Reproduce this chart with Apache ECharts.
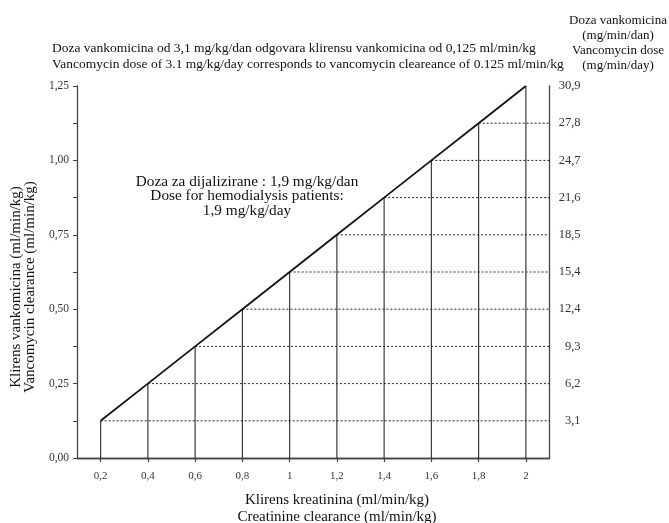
<!DOCTYPE html>
<html><head><meta charset="utf-8">
<script src="https://cdn.jsdelivr.net/npm/echarts@6/dist/echarts.min.js"></script>
<style>html,body{margin:0;padding:0;background:#fff}#c{width:669px;height:523px}</style>
</head><body><div id="c"></div>
<script>
// ---- data ----
const creatinineClearance = [0.2, 0.4, 0.6, 0.8, 1.0, 1.2, 1.4, 1.6, 1.8, 2.0];
const vancomycinClearance = [0.125, 0.25, 0.375, 0.5, 0.625, 0.75, 0.875, 1.0, 1.125, 1.25];
const xTickLabels = ['0,2', '0,4', '0,6', '0,8', '1', '1,2', '1,4', '1,6', '1,8', '2'];
const leftTickValues = [0, 0.25, 0.5, 0.75, 1.0, 1.25];
const leftTickLabels = ['0,00', '0,25', '0,50', '0,75', '1,00', '1,25'];
const leftMinorTickValues = [0.125, 0.375, 0.625, 0.875, 1.125];
const rightTickValues = [0.125, 0.25, 0.375, 0.5, 0.625, 0.75, 0.875, 1.0, 1.125, 1.25];
const rightTickLabels = ['3,1', '6,2', '9,3', '12,4', '15,4', '18,5', '21,6', '24,7', '27,8', '30,9'];
const X_MIN = 0.1, X_MAX = 2.1, Y_MIN = 0, Y_MAX = 1.25;

const FONT = '"Liberation Serif", "Times New Roman", serif';
const AXIS_COLOR = '#444';

const chart = echarts.init(document.getElementById('c'), null, { renderer: 'canvas' });

const points = creatinineClearance.map((x, i) => [x, vancomycinClearance[i]]);

const option = {
  backgroundColor: '#fff',
  animation: false,
  textStyle: { fontFamily: FONT },
  grid: { left: 77, right: 119.5, top: 86, bottom: 65, containLabel: false },
  xAxis: [
    {
      type: 'value', min: X_MIN, max: X_MAX, position: 'bottom',
      splitLine: { show: false },
      axisLine: { show: true, lineStyle: { color: AXIS_COLOR, width: 1.3 } },
      axisTick: { show: true, customValues: creatinineClearance, length: 4, lineStyle: { color: AXIS_COLOR, width: 1.2 } },
      axisLabel: {
        customValues: creatinineClearance, margin: 13, color: '#333', fontFamily: FONT, fontSize: 11,
        formatter: (v) => xTickLabels[creatinineClearance.indexOf(v)]
      }
    },
    {
      type: 'value', min: X_MIN, max: X_MAX, position: 'top',
      splitLine: { show: false },
      axisLine: { show: true, lineStyle: { color: AXIS_COLOR, width: 1.3 } },
      axisTick: { show: false }, axisLabel: { show: false }
    }
  ],
  yAxis: [
    {
      type: 'value', min: Y_MIN, max: Y_MAX, position: 'left',
      splitLine: { show: false },
      axisLine: { show: true, lineStyle: { color: AXIS_COLOR, width: 1.3 } },
      axisTick: { show: true, customValues: leftTickValues.concat(leftMinorTickValues), length: 4, lineStyle: { color: AXIS_COLOR } },
      axisLabel: {
        customValues: leftTickValues, margin: 8, color: '#333', fontFamily: FONT, fontSize: 11.5,
        formatter: (v) => leftTickLabels[leftTickValues.indexOf(v)]
      }
    },
    {
      type: 'value', min: Y_MIN, max: Y_MAX, position: 'right',
      splitLine: { show: false },
      axisLine: { show: true, lineStyle: { color: AXIS_COLOR, width: 1.3 } },
      axisTick: { show: false },
      axisLabel: {
        customValues: rightTickValues, margin: 31, align: 'right', color: '#333', fontFamily: FONT, fontSize: 12.5,
        formatter: (v) => rightTickLabels[rightTickValues.indexOf(v)]
      }
    }
  ],
  series: [
    {
      type: 'custom', name: 'verticals', xAxisIndex: 0, yAxisIndex: 0,
      data: points, z: 2,
      renderItem: (params, api) => {
        const p0 = api.coord([api.value(0), Y_MIN]);
        const p1 = api.coord([api.value(0), api.value(1)]);
        return { type: 'line', shape: { x1: p0[0], y1: p0[1], x2: p1[0], y2: p1[1] },
          style: { stroke: '#3a3a3a', lineWidth: 1.2 } };
      }
    },
    {
      type: 'custom', name: 'horizontals', xAxisIndex: 0, yAxisIndex: 0,
      data: points, z: 2,
      renderItem: (params, api) => {
        if (api.value(1) >= Y_MAX) return null;
        const p0 = api.coord([api.value(0), api.value(1)]);
        const p1 = api.coord([X_MAX, api.value(1)]);
        return { type: 'line', shape: { x1: p0[0], y1: p0[1], x2: p1[0], y2: p1[1] },
          style: { stroke: '#222', lineWidth: 1, lineDash: [2, 2] } };
      }
    },
    {
      type: 'line', name: 'clearance', xAxisIndex: 0, yAxisIndex: 0,
      data: points, symbol: 'none', z: 3,
      lineStyle: { color: '#111', width: 1.8 }
    }
  ],
  graphic: [
    {
      type: 'text', x: 52, y: 40,
      style: {
        text: 'Doza vankomicina od 3,1 mg/kg/dan odgovara klirensu vankomicina od 0,125 ml/min/kg\nVancomycin dose of 3.1 mg/kg/day corresponds to vancomycin cleareance of 0.125 ml/min/kg',
        font: '13.5px ' + FONT, fill: '#111', lineHeight: 16.5, align: 'left', verticalAlign: 'top'
      }
    },
    {
      type: 'text', x: 618, y: 13,
      style: {
        text: 'Doza vankomicina\n(mg/min/dan)\nVancomycin dose\n(mg/min/day)',
        font: '13px ' + FONT, fill: '#111', lineHeight: 15, align: 'center', verticalAlign: 'top'
      }
    },
    {
      type: 'text', x: 247, y: 175,
      style: {
        text: 'Doza za dijalizirane : 1,9 mg/kg/dan\nDose for hemodialysis patients:\n1,9 mg/kg/day',
        font: '15.3px ' + FONT, fill: '#111', lineHeight: 14.3, align: 'center', verticalAlign: 'top'
      }
    },
    {
      type: 'text', x: 337, y: 492,
      style: {
        text: 'Klirens kreatinina (ml/min/kg)\nCreatinine clearance (ml/min/kg)',
        font: '15px ' + FONT, fill: '#111', lineHeight: 17, align: 'center', verticalAlign: 'top'
      }
    },
    {
      type: 'text', x: 23, y: 287, rotation: Math.PI / 2,
      style: {
        text: 'Klirens vankomicina (ml/min/kg)\nVancomycin clearance (ml/min/kg)',
        font: '15px ' + FONT, fill: '#111', lineHeight: 14, align: 'center', verticalAlign: 'middle'
      }
    }
  ]
};
chart.setOption(option);
</script>
</body></html>
